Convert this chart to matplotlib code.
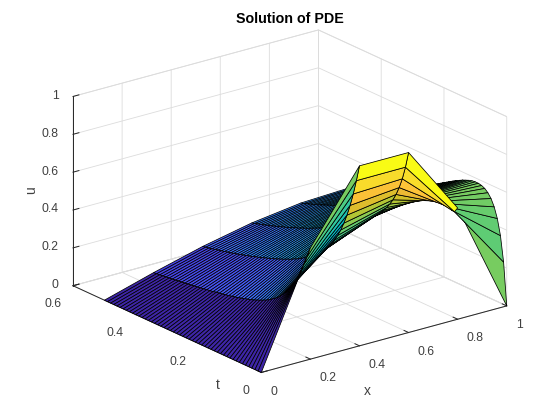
import numpy as np
import matplotlib
matplotlib.use("Agg")
import matplotlib.pyplot as plt
from matplotlib.colors import LinearSegmentedColormap

plt.rcParams["font.family"] = ["Liberation Sans", "DejaVu Sans"]

x_vals = [0.0, 0.2, 0.4, 0.6, 0.8, 1.0]
t_vals = [0.00, 0.01, 0.02, 0.03, 0.04, 0.05, 0.06, 0.07, 0.08, 0.09,
          0.10, 0.11, 0.12, 0.13, 0.14, 0.15, 0.16, 0.17, 0.18, 0.19,
          0.20, 0.21, 0.22, 0.23, 0.24, 0.25, 0.26, 0.27, 0.28, 0.29,
          0.30, 0.31, 0.32, 0.33, 0.34, 0.35, 0.36, 0.37, 0.38, 0.39,
          0.40, 0.41, 0.42, 0.43, 0.44, 0.45, 0.46, 0.47, 0.48, 0.49, 0.50]

# u along t, one list per x position
u_x00 = [0.0] * 51
u_x02 = [.588, .534, .486, .442, .403, .369, .339, .313, .290, .271,
         .254, .239, .227, .215, .205, .197, .189, .182, .175, .169,
         .164, .159, .154, .149, .145, .141, .137, .134, .130, .127,
         .124, .120, .117, .115, .112, .109, .106, .104, .101, .099,
         .096, .094, .092, .089, .087, .085, .083, .081, .079, .077, .075]
u_x04 = [.951, .865, .787, .719, .660, .610, .566, .529, .497, .469,
         .445, .424, .405, .389, .374, .360, .348, .336, .326, .316,
         .306, .298, .289, .282, .274, .267, .260, .253, .247, .241,
         .235, .229, .223, .218, .212, .207, .202, .197, .192, .187,
         .183, .178, .174, .170, .166, .162, .158, .154, .150, .147, .143]
u_x06 = [.951, .866, .797, .743, .699, .663, .633, .607, .585, .565,
         .546, .529, .513, .499, .485, .471, .459, .447, .435, .424,
         .413, .403, .393, .383, .373, .364, .355, .346, .338, .330,
         .322, .314, .306, .299, .292, .284, .278, .271, .264, .258,
         .252, .246, .240, .234, .228, .223, .217, .212, .207, .202, .197]
u_x08 = [.588, .560, .562, .571, .580, .586, .590, .590, .587, .583,
         .577, .569, .560, .551, .541, .531, .521, .510, .499, .488,
         .477, .467, .456, .446, .435, .425, .415, .405, .396, .386,
         .377, .368, .359, .351, .342, .334, .326, .318, .310, .303,
         .296, .289, .282, .275, .268, .262, .255, .249, .243, .237, .232]
u_x10 = [.000, .224, .356, .439, .493, .529, .552, .567, .575, .579,
         .579, .577, .572, .565, .558, .549, .540, .530, .520, .509,
         .499, .488, .477, .467, .456, .446, .436, .425, .415, .406,
         .396, .387, .377, .368, .360, .351, .343, .334, .326, .319,
         .311, .303, .296, .289, .282, .275, .268, .262, .256, .249, .243]

x_ticks = [0, 0.2, 0.4, 0.6, 0.8, 1]
t_ticks = [0, 0.2, 0.4, 0.6]
u_ticks = [0, 0.2, 0.4, 0.6, 0.8, 1]

parula = LinearSegmentedColormap.from_list("parula", [
    (0.2422, 0.1504, 0.6603), (0.2706, 0.2147, 0.8364), (0.2813, 0.3006, 0.9414),
    (0.2699, 0.3892, 0.9906), (0.1963, 0.4847, 0.9892), (0.1687, 0.5703, 0.9359),
    (0.1248, 0.6459, 0.8883), (0.0689, 0.6948, 0.8394), (0.0067, 0.7312, 0.7660),
    (0.1408, 0.7584, 0.6842), (0.2161, 0.7843, 0.5923), (0.3406, 0.8008, 0.4789),
    (0.5044, 0.7993, 0.3480), (0.6720, 0.7793, 0.2227), (0.8203, 0.7498, 0.1535),
    (0.9393, 0.7288, 0.2100), (0.9970, 0.7659, 0.2199), (0.9786, 0.8386, 0.1766),
    (0.9597, 0.9135, 0.1423), (0.9769, 0.9839, 0.0805)])

X, T = np.meshgrid(x_vals, t_vals)
U = np.column_stack([u_x00, u_x02, u_x04, u_x06, u_x08, u_x10])
face_colors = parula(U[:-1, :-1] / U.max())

GRID = "#dcdcdc"
DARK = "#262626"
TEXT = "#404040"

fig = plt.figure(figsize=(5.6, 4.2), dpi=100)
ax = fig.add_subplot(projection="3d", proj_type="ortho")
# stretch the view to fill the rectangle, as the reference does
ax.apply_aspect = lambda position=None: None
ax.set_position([22.8 / 560, 30.1 / 420, 520.1 / 560, 367.5 / 420])
ax.set_box_aspect((1, 1, 1))
ax.view_init(elev=30, azim=-127.5)
ax.patch.set_alpha(0)

ax.plot_surface(X, T, U, facecolors=face_colors, rstride=1, cstride=1,
                edgecolor="black", linewidth=0.55, shade=False, antialiased=True)

ax.set_xlim(0, 1, view_margin=0)
ax.set_ylim(0, 0.6, view_margin=0)
ax.set_zlim(0, 1, view_margin=0)
ax.set_xticks(x_ticks, [f"{v:g}" for v in x_ticks])
ax.set_yticks(t_ticks, [f"{v:g}" for v in t_ticks])
ax.set_zticks(u_ticks, [f"{v:g}" for v in u_ticks])

for axis in (ax.xaxis, ax.yaxis, ax.zaxis):
    axis.set_pane_color((1, 1, 1, 1))
    axis.pane.set_edgecolor(GRID)
    axis.pane.set_linewidth(0.6)
    axis.line.set_color(DARK)
    axis.line.set_linewidth(0.7)
    axis._axinfo["grid"].update(color=GRID, linewidth=0.6)
    axis._axinfo["tick"].update(inward_factor=0.0, outward_factor=0.3)
    axis._axinfo["tick"]["linewidth"] = {True: 0.7, False: 0.7}
    axis.set_tick_params(color=DARK, labelcolor=TEXT, labelsize=8.8, pad=0)

ax.zaxis.set_tick_params(pad=-2.5)
for tick in ax.xaxis.get_major_ticks():
    tick.label1.set_ha("left")
    tick.label1.set_va("top")
for tick in ax.yaxis.get_major_ticks():
    tick.label1.set_ha("right")
    tick.label1.set_va("top")
for tick in ax.zaxis.get_major_ticks():
    tick.label1.set_ha("right")
    tick.label1.set_va("center")

# axis labels sit off the axis midpoints in the reference
fig.text(367 / 560, 1 - 391 / 420, "x", ha="center", va="center", fontsize=10, color=TEXT)
fig.text(218 / 560, 1 - 385 / 420, "t", ha="center", va="center", fontsize=10, color=TEXT)
fig.text(31 / 560, 1 - 190 / 420, "u", ha="center", va="center", fontsize=10, color=TEXT, rotation=90)
fig.suptitle("Solution of PDE", x=289.5 / 560, y=1 - 19 / 420, ha="center", va="center",
             fontsize=10.3, fontweight="bold", color="black")

fig.savefig("out.png", dpi=100)
